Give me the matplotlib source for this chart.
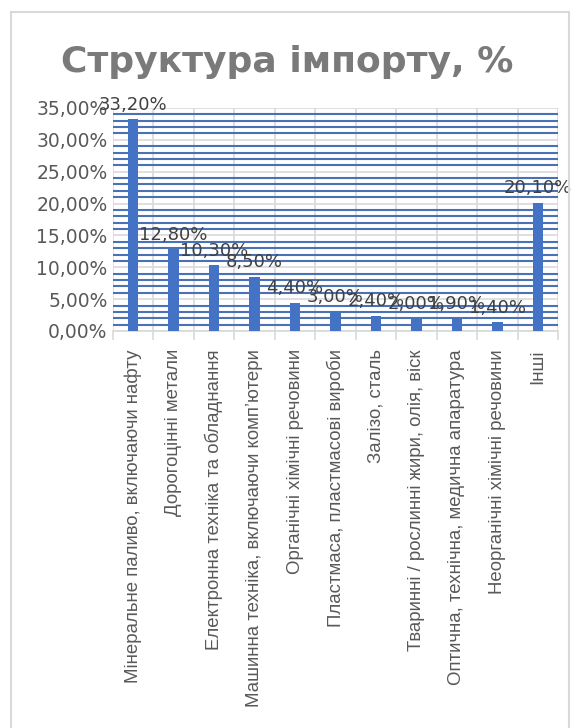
import matplotlib
matplotlib.use("Agg")
import matplotlib.pyplot as plt
from matplotlib.patches import Rectangle
from matplotlib.ticker import FuncFormatter, MultipleLocator, FixedLocator

# Import structure by commodity group, share of total
categories = [
    "Мінеральне паливо, включаючи нафту",
    "Дорогоцінні метали",
    "Електронна техніка та обладнання",
    "Машинна техніка, включаючи комп’ютери",
    "Органічні хімічні речовини",
    "Пластмаса, пластмасові вироби",
    "Залізо, сталь",
    "Тваринні / рослинні жири, олія, віск",
    "Оптична, технічна, медична апаратура",
    "Неорганічні хімічні речовини",
    "Інші",
]
shares = [0.332, 0.128, 0.103, 0.085, 0.044, 0.030, 0.024, 0.020, 0.019, 0.014, 0.201]
y_ticks = [0.0, 0.05, 0.10, 0.15, 0.20, 0.25, 0.30, 0.35]

BAR_COLOR = "#4472C4"
GRID_MINOR = "#4a70b6"
GRID_MAJOR = "#d9d9d9"
TEXT_GRAY = "#595959"


def pct(v, _pos=None):
    return f"{v * 100:.2f}%".replace(".", ",")


fig = plt.figure(figsize=(5.74, 7.28), dpi=100, facecolor="white")

# chart frame
fig.patches.append(
    Rectangle((11 / 574, -0.05), 558 / 574, 1.05 - 12 / 728, transform=fig.transFigure,
              fill=False, edgecolor="#d9d9d9", linewidth=1.5)
)

ax = fig.add_axes([113 / 574, 1 - 331 / 728, 445 / 574, 223 / 728])
x = list(range(len(categories)))
ax.bar(x, shares, width=0.26, color=BAR_COLOR, zorder=3)

ax.set_xlim(-0.5, len(categories) - 0.5)
ax.set_ylim(0, 0.35)
ax.set_axisbelow(True)

ax.yaxis.set_major_locator(FixedLocator(y_ticks))
ax.yaxis.set_minor_locator(MultipleLocator(0.01))
ax.yaxis.set_major_formatter(FuncFormatter(pct))
ax.grid(axis="y", which="minor", color=GRID_MINOR, linewidth=1.5, zorder=0)
ax.grid(axis="y", which="major", color=GRID_MAJOR, linewidth=1.2, zorder=1)

ax.xaxis.set_major_locator(FixedLocator(x))
ax.xaxis.set_minor_locator(FixedLocator([i - 0.5 for i in range(len(categories) + 1)]))
ax.grid(axis="x", which="minor", color=GRID_MAJOR, linewidth=1.2, zorder=1)
ax.set_xticklabels(categories, rotation=90, fontsize=13.4, color=TEXT_GRAY,
                   family="Liberation Sans", va="top", ha="center")

ax.tick_params(axis="x", which="major", length=0, pad=13)
ax.tick_params(axis="x", which="minor", length=6.5, width=1.2, color=GRID_MAJOR,
               direction="out")
ax.tick_params(axis="y", which="both", length=0, pad=4, labelsize=13.5,
               labelcolor=TEXT_GRAY)

for s in ["left", "right", "top"]:
    ax.spines[s].set_visible(False)
ax.spines["bottom"].set_color(GRID_MAJOR)
ax.spines["bottom"].set_linewidth(1.2)

for xi, v in zip(x, shares):
    ax.annotate(pct(v), (xi, v), xytext=(0, 4), textcoords="offset points",
                ha="center", va="bottom", fontsize=13, color="#404040", zorder=5)

fig.text(0.5, 1 - 62 / 728, "Структура імпорту, %", ha="center", va="center",
         fontsize=26, fontweight="bold", color="#7a7a7a")

fig.savefig("out.png", dpi=100, facecolor="white")
